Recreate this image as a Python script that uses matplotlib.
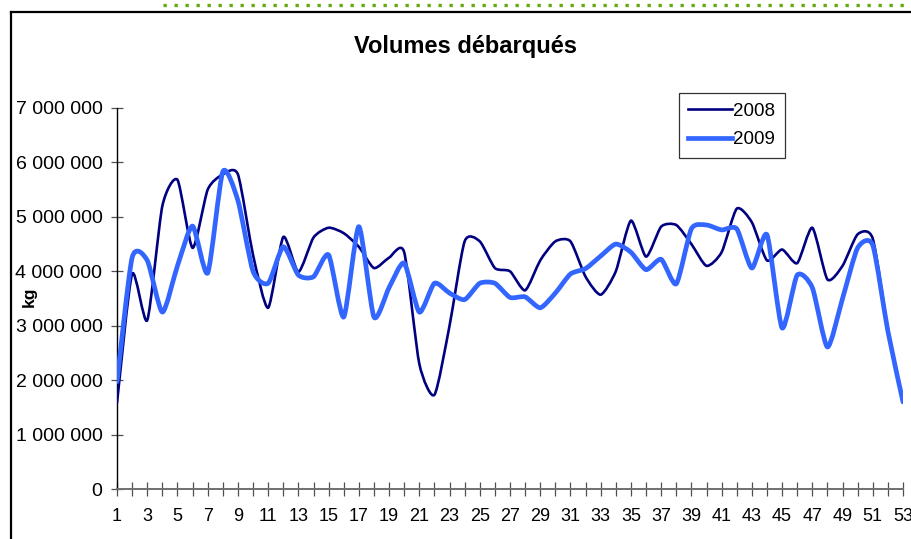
import numpy as np
import matplotlib
matplotlib.use("Agg")
import matplotlib.pyplot as plt
from matplotlib.path import Path
from matplotlib.patches import PathPatch
from matplotlib.lines import Line2D

plt.rcParams['font.family'] = ['Liberation Sans', 'DejaVu Sans']

weeks_2008 = list(range(1, 53))
vol_2008 = [1.58, 3.95, 3.10, 5.20, 5.68, 4.43, 5.50, 5.78, 5.78, 4.30,
            3.33, 4.63, 3.99, 4.62, 4.80, 4.70, 4.45, 4.06, 4.25, 4.35,
            2.30, 1.73, 3.00, 4.55, 4.55, 4.06, 4.00, 3.65, 4.20, 4.55,
            4.55, 3.90, 3.57, 4.00, 4.93, 4.27, 4.82, 4.85, 4.50, 4.10,
            4.35, 5.15, 4.90, 4.20, 4.40, 4.15, 4.80, 3.85, 4.10, 4.68,
            4.60, 2.90]
weeks_2009 = list(range(1, 54))
vol_2009 = [1.97, 4.25, 4.20, 3.25, 4.10, 4.83, 3.97, 5.83, 5.30, 4.00,
            3.78, 4.45, 3.93, 3.90, 4.30, 3.16, 4.82, 3.16, 3.70, 4.15,
            3.25, 3.78, 3.60, 3.48, 3.78, 3.78, 3.52, 3.53, 3.33, 3.60,
            3.95, 4.05, 4.28, 4.50, 4.35, 4.03, 4.22, 3.77, 4.78, 4.85,
            4.76, 4.78, 4.06, 4.67, 2.96, 3.93, 3.70, 2.61, 3.50, 4.43,
            4.48, 2.90, 1.60]
series_labels = ['2008', '2009']
yticks = [0, 1e6, 2e6, 3e6, 4e6, 5e6, 6e6, 7e6]
ytick_labels = ['0', '1 000 000', '2 000 000', '3 000 000', '4 000 000',
                '5 000 000', '6 000 000', '7 000 000']
xticks = list(range(1, 54, 2))

W, H = 911, 539
fig = plt.figure(figsize=(W / 100, H / 100), dpi=100)
ax = fig.add_axes([117 / W, 1 - 489 / H, (903 - 117) / W, (489 - 108) / H])


def smooth_path(xs, ys, k=1 / 9.0):
    pts = np.column_stack([xs, ys]).astype(float)
    n = len(pts)
    verts = [pts[0]]
    codes = [Path.MOVETO]
    for i in range(n - 1):
        p0 = pts[i - 1] if i > 0 else pts[i]
        p1 = pts[i]
        p2 = pts[i + 1]
        p3 = pts[i + 2] if i + 2 < n else pts[i + 1]
        c1 = p1 + (p2 - p0) * k
        c2 = p2 - (p3 - p1) * k
        verts += [c1, c2, p2]
        codes += [Path.CURVE4] * 3
    return Path(verts, codes)


c08 = '#000080'
c09 = '#3366FF'
y08 = np.array(vol_2008) * 1e6
y09 = np.array(vol_2009) * 1e6
ax.add_patch(PathPatch(smooth_path(weeks_2008, y08), fill=False,
                       edgecolor=c08, lw=1.9, joinstyle='round', capstyle='round', zorder=3))
ax.add_patch(PathPatch(smooth_path(weeks_2009, y09), fill=False,
                       edgecolor=c09, lw=3.4, joinstyle='round', capstyle='round', zorder=4))

ax.set_xlim(1, 53)
ax.set_ylim(0, 7e6)
ax.set_yticks(yticks)
ax.set_yticklabels(ytick_labels)
ax.set_xticks(range(1, 54), minor=False)
ax.set_xticklabels([str(w) if w in xticks else '' for w in range(1, 54)])
for s in ['top', 'right']:
    ax.spines[s].set_visible(False)
ax.spines['left'].set_color('black')
ax.spines['left'].set_linewidth(1.0)
ax.spines['bottom'].set_color('#707070')
ax.spines['bottom'].set_linewidth(1.4)
ax.tick_params(axis='y', direction='inout', length=9, width=0.9, color='#505050',
               labelsize=14, pad=6)
ax.tick_params(axis='x', direction='inout', length=10, width=0.9, color='#505050',
               labelsize=13, pad=9)
ax.set_facecolor('none')

ax.set_ylabel('kg', fontsize=12.5, fontweight='bold', labelpad=0)
ax.yaxis.set_label_coords((37 - 117) / (903 - 117), (489 - 297) / (489 - 108))

fig.text(465 / W, 1 - 46 / H, 'Volumes débarqués', ha='center', va='center',
         fontsize=17, fontweight='bold')

handles = [Line2D([], [], color=c08, lw=1.9), Line2D([], [], color=c09, lw=3.4)]
leg = fig.legend(handles, series_labels, loc='upper left',
                 bbox_to_anchor=(679 / W, 1 - 93 / H), frameon=True, fancybox=False,
                 fontsize=13.5, handlelength=2.3, handletextpad=0.1,
                 labelspacing=0.62, borderpad=0.5, borderaxespad=0)
leg.get_frame().set_edgecolor('black')
leg.get_frame().set_linewidth(0.9)

# outer frame lines
fig.add_artist(Line2D([11 / W, 11 / W], [0, 1 - 12 / H], transform=fig.transFigure,
                      color='black', lw=1.6))
fig.add_artist(Line2D([11 / W, 1], [1 - 12 / H, 1 - 12 / H], transform=fig.transFigure,
                      color='black', lw=1.6))
fig.add_artist(Line2D([163 / W, 1], [1 - 5 / H, 1 - 5 / H], transform=fig.transFigure,
                      color='#66AA11', lw=2.4, linestyle=(0, (1, 2.3))))

fig.savefig('out.png', dpi=100)
